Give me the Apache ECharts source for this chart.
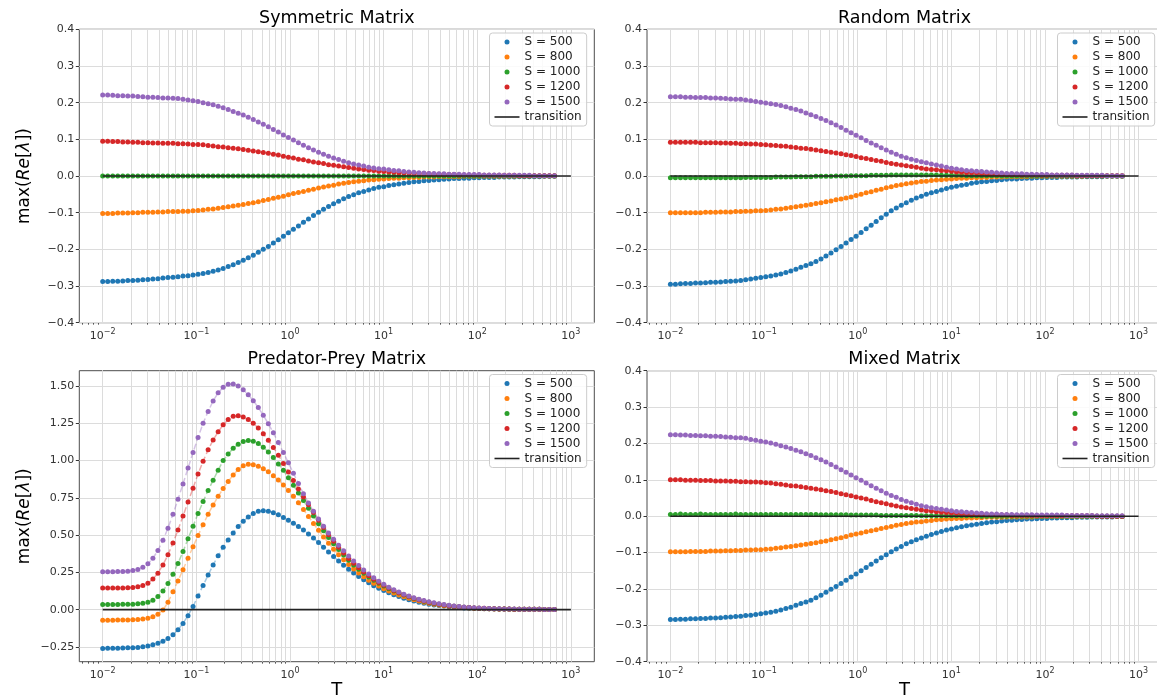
<!DOCTYPE html>
<html>
<head>
<meta charset="utf-8">
<script src="https://cdn.jsdelivr.net/npm/echarts@6/dist/echarts.min.js"></script>
<style>
  html, body { margin: 0; padding: 0; background: #ffffff; }
  #chart { width: 1157px; height: 700px; }
</style>
</head>
<body>
<div id="chart"></div>
<script>
// Temperature grid shared by every series
const T = [
  0.01, 0.01131, 0.0128, 0.01448, 0.01639, 0.01854, 0.02097, 0.02373, 0.02684, 0.03037,
  0.03436, 0.03887, 0.04398, 0.04976, 0.0563, 0.06368, 0.07204, 0.08151, 0.09222, 0.1043,
  0.118, 0.1336, 0.1511, 0.171, 0.1934, 0.2188, 0.2475, 0.28, 0.3168, 0.3584,
  0.4055, 0.4588, 0.519, 0.5872, 0.6644, 0.7516, 0.8504, 0.9621, 1.088, 1.231,
  1.393, 1.576, 1.783, 2.018, 2.283, 2.582, 2.922, 3.305, 3.74, 4.231,
  4.786, 5.415, 6.126, 6.931, 7.842, 8.872, 10.04, 11.36, 12.85, 14.54,
  16.44, 18.61, 21.05, 23.82, 26.94, 30.48, 34.49, 39.02, 44.14, 49.94,
  56.49, 63.92, 72.31, 81.81, 92.56, 104.7, 118.5, 134.0, 151.6, 171.6,
  194.1, 219.6, 248.4, 281.1, 318.0, 359.8, 407.0, 460.5, 521.0, 589.4, 666.8
];

const seriesNames = ['S = 500', 'S = 800', 'S = 1000', 'S = 1200', 'S = 1500'];
const transitionName = 'transition';

// Symmetric matrix
const sym500 = [
  -.288, -.288, -.287, -.287, -.286, -.285, -.285, -.284, -.283, -.282,
  -.281, -.280, -.278, -.277, -.276, -.275, -.273, -.272, -.270, -.268,
  -.266, -.263, -.260, -.256, -.252, -.247, -.242, -.236, -.230, -.223,
  -.216, -.208, -.200, -.192, -.183, -.174, -.164, -.155, -.145, -.136,
  -.126, -.117, -.108, -.099, -.091, -.083, -.076, -.069, -.062, -.056,
  -.051, -.046, -.042, -.038, -.034, -.031, -.029, -.026, -.024, -.022,
  -.020, -.018, -.016, -.015, -.013, -.012, -.011, -.010, -.009, -.008,
  -.007, -.007, -.006, -.006, -.005, -.005, -.004, -.004, -.004, -.003,
  -.003, -.003, -.003, -.002, -.002, -.002, -.002, -.002, -.001, -.001, -.001
];
const sym800 = [
  -.102, -.102, -.102, -.101, -.101, -.101, -.100, -.100, -.099, -.099,
  -.099, -.098, -.098, -.097, -.097, -.097, -.096, -.096, -.095, -.094,
  -.093, -.091, -.090, -.088, -.086, -.084, -.082, -.080, -.078, -.075,
  -.073, -.070, -.067, -.064, -.061, -.058, -.055, -.051, -.048, -.045,
  -.042, -.039, -.036, -.033, -.030, -.027, -.025, -.022, -.020, -.018,
  -.016, -.014, -.013, -.011, -.010, -.009, -.008, -.007, -.006, -.006,
  -.005, -.005, -.004, -.004, -.003, -.003, -.003, -.002, -.002, -.002,
  -.002, -.002, -.001, -.001, -.001, -.001, -.001, -.001, -.001, -.001,
  -.001, -.001, -.001, 0, 0, 0, 0, 0, 0, 0, 0
];
const sym1000 = [
  0, 0, 0, 0, 0, 0, 0, 0, 0, 0,
  0, 0, 0, 0, 0, 0, 0, 0, 0, 0,
  0, 0, 0, 0, 0, 0, 0, 0, 0, 0,
  0, 0, 0, 0, 0, 0, 0, 0, 0, 0,
  0, 0, 0, 0, 0, 0, 0, 0, 0, 0,
  0, 0, 0, 0, 0, 0, 0, 0, 0, 0,
  0, 0, 0, 0, 0, 0, 0, 0, 0, 0,
  0, 0, 0, 0, 0, 0, 0, 0, 0, 0,
  0, 0, 0, 0, 0, 0, 0, 0, 0, 0, 0
];
const sym1200 = [
  .095, .095, .094, .094, .093, .093, .092, .092, .091, .091,
  .090, .090, .089, .089, .089, .088, .088, .087, .086, .086,
  .085, .083, .082, .080, .079, .077, .076, .074, .072, .070,
  .068, .066, .064, .062, .059, .057, .054, .051, .049, .046,
  .044, .041, .038, .036, .034, .031, .029, .027, .025, .023,
  .021, .019, .018, .016, .015, .013, .012, .011, .010, .009,
  .009, .008, .007, .007, .006, .006, .005, .005, .004, .004,
  .004, .003, .003, .003, .003, .003, .002, .002, .002, .002,
  .002, .002, .002, .001, .001, .001, .001, .001, .001, .001, .001
];
const sym1500 = [
  .221, .221, .220, .219, .219, .218, .218, .217, .216, .215,
  .215, .214, .213, .213, .212, .211, .209, .207, .205, .203,
  .200, .197, .194, .190, .186, .181, .176, .171, .166, .160,
  .154, .147, .141, .134, .127, .120, .112, .105, .098, .091,
  .084, .077, .071, .065, .059, .054, .049, .045, .040, .036,
  .033, .030, .027, .024, .022, .020, .019, .017, .015, .014,
  .012, .011, .010, .009, .008, .007, .007, .006, .006, .005,
  .005, .005, .004, .004, .004, .004, .003, .003, .003, .003,
  .002, .002, .002, .002, .002, .002, .001, .001, .001, .001, .001
];

// Random matrix
const rnd500 = [
  -.295, -.295, -.294, -.293, -.293, -.292, -.292, -.291, -.290, -.290,
  -.289, -.288, -.287, -.286, -.285, -.283, -.281, -.279, -.277, -.275,
  -.273, -.270, -.267, -.263, -.259, -.254, -.249, -.244, -.239, -.233,
  -.226, -.218, -.210, -.201, -.192, -.183, -.173, -.164, -.154, -.144,
  -.134, -.124, -.114, -.104, -.095, -.087, -.080, -.073, -.066, -.060,
  -.055, -.050, -.046, -.042, -.038, -.034, -.031, -.028, -.025, -.023,
  -.020, -.018, -.016, -.015, -.013, -.012, -.010, -.009, -.008, -.008,
  -.007, -.006, -.006, -.005, -.005, -.004, -.004, -.004, -.003, -.003,
  -.003, -.003, -.002, -.002, -.002, -.002, -.002, -.001, -.001, -.001, -.001
];
const rnd800 = [
  -.100, -.100, -.100, -.100, -.100, -.100, -.100, -.099, -.099, -.099,
  -.098, -.098, -.098, -.097, -.097, -.096, -.096, -.095, -.095, -.094,
  -.093, -.091, -.090, -.088, -.086, -.084, -.082, -.080, -.078, -.075,
  -.073, -.070, -.068, -.065, -.063, -.060, -.057, -.053, -.050, -.046,
  -.043, -.039, -.036, -.032, -.029, -.026, -.024, -.021, -.019, -.017,
  -.015, -.014, -.012, -.011, -.010, -.009, -.008, -.007, -.006, -.006,
  -.005, -.005, -.004, -.004, -.003, -.003, -.003, -.002, -.002, -.002,
  -.002, -.002, -.001, -.001, -.001, -.001, -.001, -.001, -.001, -.001,
  -.001, -.001, -.001, 0, 0, 0, 0, 0, 0, 0, 0
];
const rnd1000 = [
  -.005, -.005, -.005, -.005, -.005, -.005, -.005, -.005, -.005, -.005,
  -.005, -.005, -.005, -.005, -.005, -.004, -.004, -.004, -.004, -.004,
  -.004, -.003, -.003, -.003, -.003, -.002, -.002, -.002, -.002, -.001,
  -.001, -.001, -.001, 0, 0, 0, .001, .001, .001, .001,
  .002, .002, .002, .002, .003, .003, .003, .003, .003, .003,
  .003, .003, .003, .003, .002, .002, .002, .002, .002, .001,
  .001, .001, .001, .001, .001, .001, 0, 0, 0, 0,
  0, 0, 0, 0, 0, 0, 0, 0, 0, 0,
  0, 0, 0, 0, 0, 0, 0, 0, 0, 0, 0
];
const rnd1200 = [
  .092, .092, .092, .092, .092, .092, .091, .091, .091, .091,
  .090, .090, .089, .089, .088, .088, .087, .087, .086, .085,
  .084, .083, .082, .081, .079, .078, .076, .075, .073, .071,
  .069, .067, .065, .063, .061, .058, .056, .053, .050, .048,
  .045, .042, .040, .037, .034, .032, .030, .028, .026, .024,
  .021, .019, .018, .017, .015, .014, .013, .011, .010, .009,
  .009, .008, .007, .006, .006, .005, .005, .004, .004, .004,
  .003, .003, .003, .003, .002, .002, .002, .002, .002, .002,
  .002, .001, .001, .001, .001, .001, .001, .001, .001, .001, .001
];
const rnd1500 = [
  .216, .216, .216, .215, .215, .214, .214, .214, .213, .213,
  .212, .211, .210, .209, .209, .207, .205, .203, .201, .199,
  .197, .195, .192, .189, .185, .181, .177, .172, .167, .162,
  .157, .151, .145, .139, .132, .125, .118, .111, .104, .097,
  .090, .084, .077, .071, .065, .059, .054, .050, .046, .042,
  .039, .036, .033, .030, .027, .024, .021, .019, .017, .015,
  .014, .013, .012, .011, .010, .009, .008, .007, .007, .006,
  .006, .005, .005, .004, .004, .004, .003, .003, .003, .003,
  .003, .002, .002, .002, .002, .002, .002, .001, .001, .001, .001
];

// Predator-prey matrix
const pp500 = [
  -.260, -.259, -.259, -.258, -.257, -.256, -.255, -.253, -.249, -.244,
  -.236, -.225, -.211, -.193, -.168, -.135, -.092, -.040, .022, .092,
  .162, .232, .300, .362, .418, .468, .515, .558, .593, .622,
  .645, .660, .664, .660, .650, .636, .619, .600, .580, .558,
  .535, .508, .480, .450, .418, .387, .356, .326, .298, .271,
  .246, .222, .200, .180, .161, .144, .128, .113, .100, .088,
  .077, .067, .058, .050, .043, .037, .032, .028, .024, .020,
  .017, .015, .012, .010, .009, .008, .007, .006, .005, .004,
  .004, .003, .003, .003, .002, .002, .002, .002, .001, .001, .001
];
const pp800 = [
  -.071, -.071, -.071, -.070, -.070, -.069, -.068, -.066, -.063, -.058,
  -.048, -.030, -.003, .050, .120, .192, .268, .345, .422, .497,
  .570, .640, .702, .760, .812, .860, .903, .940, .965, .975,
  .972, .962, .946, .925, .899, .869, .836, .800, .760, .717,
  .672, .625, .578, .532, .488, .446, .406, .369, .335, .303,
  .273, .246, .221, .198, .177, .158, .141, .125, .111, .098,
  .087, .076, .066, .058, .050, .043, .037, .032, .027, .023,
  .020, .017, .014, .012, .010, .009, .007, .006, .005, .005,
  .004, .003, .003, .003, .002, .002, .002, .002, .001, .001, .001
];
const pp1000 = [
  .035, .035, .035, .035, .036, .036, .037, .039, .043, .050,
  .064, .088, .125, .175, .238, .310, .390, .475, .560, .645,
  .725, .800, .868, .935, 1.000, 1.045, 1.082, 1.110, 1.128, 1.135,
  1.130, 1.114, 1.090, 1.058, 1.020, .977, .935, .885, .834, .783,
  .732, .680, .628, .577, .529, .484, .442, .403, .366, .332,
  .300, .271, .244, .219, .197, .177, .158, .141, .125, .111,
  .098, .086, .075, .066, .057, .049, .042, .036, .031, .027,
  .023, .019, .016, .014, .012, .010, .008, .007, .006, .005,
  .004, .004, .003, .003, .002, .002, .002, .002, .001, .001, .001
];
const pp1200 = [
  .145, .145, .145, .146, .146, .147, .149, .153, .162, .178,
  .205, .245, .300, .368, .447, .535, .628, .722, .815, .910,
  .995, 1.072, 1.138, 1.193, 1.240, 1.275, 1.297, 1.301, 1.292, 1.275,
  1.250, 1.218, 1.180, 1.136, 1.088, 1.036, .981, .924, .866, .810,
  .756, .703, .651, .600, .551, .503, .459, .418, .380, .344,
  .311, .281, .253, .227, .204, .183, .163, .145, .129, .114,
  .100, .088, .077, .067, .058, .050, .043, .037, .032, .027,
  .023, .020, .017, .014, .012, .010, .009, .007, .006, .005,
  .005, .004, .003, .003, .003, .002, .002, .002, .001, .001, .001
];
const pp1500 = [
  .255, .255, .255, .256, .256, .258, .262, .270, .284, .308,
  .345, .397, .465, .547, .640, .740, .843, .950, 1.055, 1.155,
  1.250, 1.330, 1.400, 1.455, 1.492, 1.512, 1.514, 1.500, 1.475, 1.442,
  1.402, 1.356, 1.304, 1.247, 1.186, 1.121, 1.054, .985, .915, .846,
  .778, .716, .660, .608, .560, .515, .472, .432, .395, .360,
  .327, .296, .266, .239, .214, .191, .170, .151, .134, .118,
  .104, .091, .080, .070, .061, .053, .046, .040, .034, .029,
  .025, .021, .018, .015, .013, .011, .009, .008, .007, .006,
  .005, .004, .004, .003, .003, .002, .002, .002, .001, .001, .001
];

// Mixed matrix
const mix500 = [
  -.284, -.284, -.283, -.283, -.282, -.282, -.281, -.281, -.280, -.280,
  -.279, -.278, -.277, -.276, -.275, -.273, -.272, -.270, -.268, -.266,
  -.264, -.261, -.258, -.254, -.250, -.245, -.240, -.236, -.231, -.224,
  -.217, -.209, -.201, -.193, -.185, -.176, -.167, -.159, -.150, -.141,
  -.132, -.123, -.114, -.106, -.098, -.090, -.083, -.076, -.070, -.065,
  -.060, -.055, -.050, -.046, -.042, -.038, -.035, -.032, -.029, -.026,
  -.024, -.022, -.020, -.018, -.016, -.015, -.013, -.012, -.011, -.010,
  -.009, -.008, -.008, -.007, -.006, -.006, -.005, -.005, -.004, -.004,
  -.004, -.003, -.003, -.003, -.002, -.002, -.002, -.002, -.002, -.001, -.001
];
const mix800 = [
  -.098, -.098, -.098, -.098, -.097, -.097, -.097, -.097, -.096, -.096,
  -.096, -.095, -.095, -.094, -.094, -.093, -.093, -.092, -.092, -.091,
  -.090, -.088, -.087, -.085, -.083, -.081, -.079, -.077, -.075, -.073,
  -.070, -.068, -.065, -.062, -.059, -.056, -.052, -.049, -.046, -.043,
  -.040, -.037, -.034, -.031, -.028, -.025, -.023, -.020, -.018, -.016,
  -.015, -.013, -.012, -.010, -.009, -.008, -.007, -.006, -.006, -.005,
  -.005, -.004, -.004, -.003, -.003, -.003, -.003, -.002, -.002, -.002,
  -.002, -.002, -.002, -.001, -.001, -.001, -.001, -.001, -.001, -.001,
  -.001, -.001, -.001, 0, 0, 0, 0, 0, 0, 0, 0
];
const mix1000 = [
  .005, .005, .006, .005, .005, .005, .006, .005, .005, .005,
  .005, .005, .005, .006, .005, .005, .005, .005, .005, .005,
  .005, .005, .005, .005, .005, .005, .005, .005, .005, .005,
  .004, .004, .004, .004, .004, .004, .003, .003, .003, .003,
  .003, .003, .002, .002, .002, .002, .002, .002, .002, .002,
  .001, .001, .001, .001, .001, .001, .001, .001, .001, .001,
  .001, .001, 0, 0, 0, 0, 0, 0, 0, 0,
  0, 0, 0, 0, 0, 0, 0, 0, 0, 0,
  0, 0, 0, 0, 0, 0, 0, 0, 0, 0, 0
];
const mix1200 = [
  .100, .100, .100, .099, .099, .099, .098, .098, .098, .097,
  .097, .097, .096, .096, .095, .095, .094, .094, .093, .092,
  .091, .089, .088, .086, .084, .083, .081, .079, .077, .075,
  .073, .070, .068, .065, .062, .059, .056, .053, .050, .047,
  .043, .040, .037, .034, .031, .028, .025, .023, .021, .019,
  .017, .015, .014, .012, .011, .010, .009, .008, .007, .006,
  .006, .005, .005, .004, .004, .003, .003, .003, .002, .002,
  .002, .002, .002, .001, .001, .001, .001, .001, .001, .001,
  .001, .001, .001, .001, .001, 0, 0, 0, 0, 0, 0
];
const mix1500 = [
  .224, .224, .223, .223, .222, .222, .221, .221, .220, .220,
  .219, .218, .217, .216, .216, .214, .211, .209, .206, .204,
  .201, .198, .194, .190, .186, .181, .177, .172, .167, .161,
  .155, .149, .142, .135, .128, .121, .113, .106, .099, .091,
  .084, .077, .070, .063, .057, .052, .046, .041, .037, .033,
  .029, .026, .023, .021, .019, .017, .015, .013, .012, .011,
  .010, .009, .008, .007, .006, .006, .005, .005, .005, .004,
  .004, .004, .004, .003, .003, .003, .003, .003, .003, .002,
  .002, .002, .002, .002, .002, .001, .001, .001, .001, .001, .001
];

// Axis ticks
const xMajorTicks = [0.01, 0.1, 1, 10, 100, 1000];
const yTicksNarrow = [-0.4, -0.3, -0.2, -0.1, 0, 0.1, 0.2, 0.3, 0.4];
const yTicksWide = [-0.25, 0, 0.25, 0.5, 0.75, 1.0, 1.25, 1.5];
const transitionLine = [[0.01, 0], [1000, 0]];

const colors = ['#1f77b4', '#ff7f0e', '#2ca02c', '#d62728', '#9467bd'];
const lineBlack = '#222222';
const FONT = 'DejaVu Sans';
const X_MIN = Math.pow(10, -2.25);
const X_MAX = Math.pow(10, 3.25);

// minor log ticks 2..9 x 10^k inside the visible range
const xMinorTicks = [];
for (let k = -3; k <= 3; k++) {
  for (let m = 2; m <= 9; m++) {
    const v = +(m * Math.pow(10, k)).toPrecision(6);
    if (v > X_MIN && v < X_MAX) xMinorTicks.push(v);
  }
}

const panels = [
  { title: 'Symmetric Matrix', values: [sym500, sym800, sym1000, sym1200, sym1500],
    box: { left: 79.3, top: 29.3, width: 515, height: 293.4 }, yMin: -0.4, yMax: 0.4,
    yTicks: yTicksNarrow, dec: 1, yName: true, xName: false, legend: { left: 489.5, top: 33 } },
  { title: 'Random Matrix', values: [rnd500, rnd800, rnd1000, rnd1200, rnd1500],
    box: { left: 647, top: 29.3, width: 515, height: 293.4 }, yMin: -0.4, yMax: 0.4,
    yTicks: yTicksNarrow, dec: 1, yName: false, xName: false, legend: { left: 1057.5, top: 33 } },
  { title: 'Predator-Prey Matrix', values: [pp500, pp800, pp1000, pp1200, pp1500],
    box: { left: 79.3, top: 370.7, width: 515, height: 291 }, yMin: -0.349, yMax: 1.603,
    yTicks: yTicksWide, dec: 2, yName: true, xName: true, legend: { left: 489.5, top: 374.5 } },
  { title: 'Mixed Matrix', values: [mix500, mix800, mix1000, mix1200, mix1500],
    box: { left: 647, top: 370.7, width: 515, height: 291 }, yMin: -0.4, yMax: 0.4,
    yTicks: yTicksNarrow, dec: 1, yName: false, xName: true, legend: { left: 1057.5, top: 374.5 } }
];

function fmtY(v, dec) {
  const s = Math.abs(v).toFixed(dec);
  return (v < -1e-9 ? '\u2212' : '') + s;
}
function fmtX(v) {
  const e = Math.round(Math.log10(v));
  return '{b|10}{s|' + (e < 0 ? '\u2212' + (-e) : String(e)) + '}';
}

const grids = [], xAxes = [], yAxes = [], series = [], legends = [], graphics = [];
const tickColor = '#333333';

panels.forEach((p, i) => {
  grids.push(Object.assign({
    show: true, borderColor: '#4d4d4d', borderWidth: 1, backgroundColor: 'transparent',
    containLabel: false, outerBoundsMode: 'none'
  }, p.box));

  xAxes.push({
    type: 'log', logBase: 10, gridIndex: i, min: X_MIN, max: X_MAX, position: 'bottom',
    axisLine: { show: false },
    axisTick: { show: true, inside: false, length: 3.5, customValues: xMajorTicks,
      lineStyle: { color: tickColor, width: 1 } },
    axisLabel: { show: true, customValues: xMajorTicks, margin: 5, formatter: fmtX,
      showMinLabel: true, showMaxLabel: true, hideOverlap: false,
      rich: {
        b: { fontSize: 11, fontFamily: FONT, color: tickColor },
        s: { fontSize: 8, fontFamily: FONT, color: tickColor, padding: [0, 0, 8, 0] }
      } },
    splitLine: { show: false }, minorTick: { show: false }, minorSplitLine: { show: false },
    name: p.xName ? 'T' : '', nameLocation: 'middle', nameGap: 17,
    nameTextStyle: { fontSize: 18, fontFamily: FONT, color: '#000' }
  });
  xAxes.push({
    type: 'log', logBase: 10, gridIndex: i, min: X_MIN, max: X_MAX, position: 'bottom',
    axisLine: { show: false },
    axisTick: { show: true, inside: false, length: 2, customValues: xMinorTicks,
      lineStyle: { color: tickColor, width: 0.8 } },
    axisLabel: { show: false }, splitLine: { show: false }
  });

  yAxes.push({
    type: 'value', gridIndex: i, min: p.yMin, max: p.yMax,
    axisLine: { show: false },
    axisTick: { show: true, inside: false, length: 3.5, customValues: p.yTicks,
      lineStyle: { color: tickColor, width: 1 } },
    axisLabel: { show: true, customValues: p.yTicks, margin: 5,
      formatter: v => fmtY(v, p.dec), fontSize: 11, fontFamily: FONT, color: tickColor,
      showMinLabel: true, showMaxLabel: true, hideOverlap: false },
    splitLine: { show: false },
    name: p.yName ? '{n|max(}{i|Re}{n|[}{i|\u03bb}{n|])}' : '',
    nameLocation: 'middle', nameGap: 46,
    nameTextStyle: { fontSize: 17, fontFamily: FONT, color: '#000',
      rich: { n: { fontSize: 17, fontFamily: FONT, color: '#000' },
              i: { fontSize: 17, fontFamily: FONT, color: '#000', fontStyle: 'italic' } } }
  });

  // grid lines (major + minor decades, value ticks)
  series.push({
    type: 'line', name: 'gridlines-' + i, xAxisIndex: 2 * i, yAxisIndex: i, data: [],
    silent: true, animation: false,
    markLine: {
      silent: true, animation: false, symbol: ['none', 'none'], z: 1,
      label: { show: false }, emphasis: { disabled: true },
      lineStyle: { color: '#dcdcdc', width: 1, type: 'solid', opacity: 1 },
      data: xMajorTicks.concat(xMinorTicks).map(v => ({ xAxis: v }))
        .concat(p.yTicks.map(v => ({ yAxis: v })))
    }
  });

  p.values.forEach((arr, k) => {
    series.push({
      type: 'line', name: seriesNames[k], xAxisIndex: 2 * i, yAxisIndex: i,
      data: T.map((t, j) => [t, arr[j]]),
      symbol: 'circle', symbolSize: 5, showSymbol: true, showAllSymbol: true,
      itemStyle: { color: colors[k], opacity: 1 },
      lineStyle: { color: colors[k], width: 1.5, type: 'dashed', opacity: 0.4 },
      emphasis: { disabled: true }, animation: false, z: 3, clip: true
    });
  });

  series.push({
    type: 'line', name: transitionName, xAxisIndex: 2 * i, yAxisIndex: i,
    data: transitionLine, symbol: 'none', showSymbol: false,
    itemStyle: { color: lineBlack },
    lineStyle: { color: lineBlack, width: 1.6 },
    emphasis: { disabled: true }, animation: false, z: 4
  });

  legends.push({
    show: true, left: p.legend.left, top: p.legend.top, orient: 'vertical',
    data: seriesNames.map(n => ({ name: n, icon: 'circle' }))
      .concat([{ name: transitionName, icon: 'path://M0,0H25V1.6H0Z',
                 itemStyle: { color: lineBlack } }]),
    itemWidth: 25, itemHeight: 5, itemGap: 3, padding: [3, 5, 3, 5],
    backgroundColor: 'rgba(255,255,255,0.85)', borderColor: '#cccccc', borderWidth: 1,
    borderRadius: 3, selectedMode: false,
    textStyle: { fontSize: 12, fontFamily: FONT, color: '#222', lineHeight: 12 }
  });

  graphics.push({
    type: 'text', silent: true,
    x: p.box.left + p.box.width / 2, y: p.box.top - 11,
    style: { text: p.title, fontSize: 17.5, fontFamily: FONT, fill: '#000',
      align: 'center', verticalAlign: 'middle', textAlign: 'center', textVerticalAlign: 'middle' }
  });
});

const chart = echarts.init(document.getElementById('chart'), null, { renderer: 'canvas' });
chart.setOption({
  animation: false,
  backgroundColor: '#ffffff',
  textStyle: { fontFamily: FONT },
  grid: grids,
  xAxis: xAxes,
  yAxis: yAxes,
  legend: legends,
  series: series,
  graphic: graphics
});
</script>
</body>
</html>
